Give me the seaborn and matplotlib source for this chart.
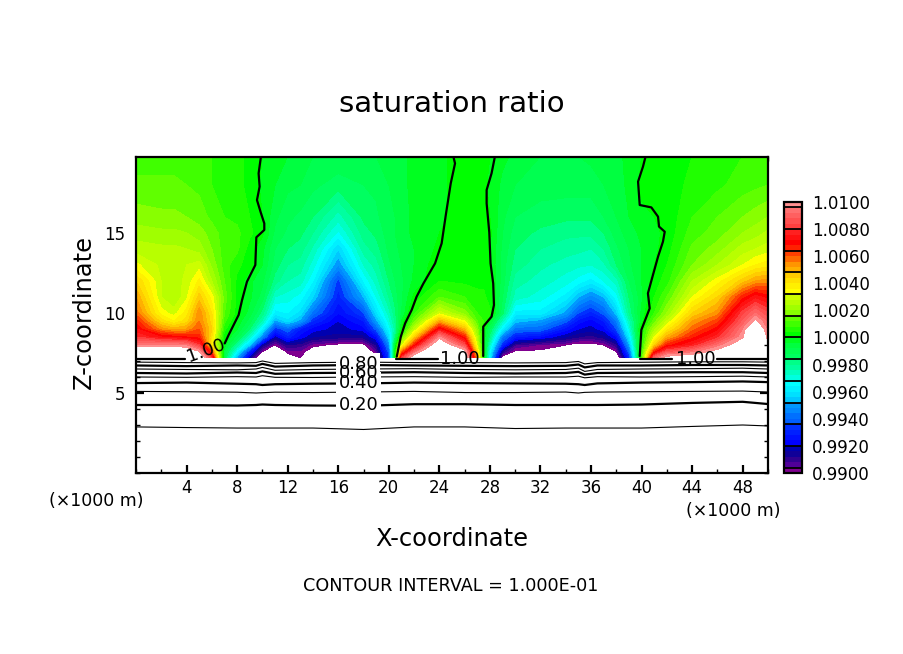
"""Saturation ratio cross-section, redrawn with seaborn and matplotlib."""

import numpy as np
import pandas as pd
import matplotlib
matplotlib.use("Agg")
import matplotlib.pyplot as plt
from matplotlib.colors import ListedColormap, BoundaryNorm
from matplotlib.ticker import MultipleLocator
import seaborn as sns

# grid of the colour field (km)
x_grid = [0, 2, 3, 4, 5, 6, 7, 8, 9, 10, 11, 12, 13, 14, 16, 18, 19, 20, 20.5, 21, 22,
          24, 26, 27, 27.5, 28, 29, 30, 32, 34, 35, 36, 37, 38, 39, 40, 41, 42, 44, 46, 48, 49, 50]
z_grid = [7.2, 7.6, 8, 8.5, 9, 9.5, 10, 11, 12, 13, 14, 15, 16, 18, 19.8]

# saturation ratio minus one, in units of 1e-4, one row per z level
row_72 = [130, 130, 130, 130, 115, 80, -10, -50, -85, -115, -120, -105, -100, -115, -130, -125, -105, -65, 0, 80, 110,
          140, 115, 50, 0, -40, -105, -115, -115, -115, -125, -125, -115, -110, -70, 10, 90, 105, 110, 125, 140, 160, 140]
row_76 = [115, 115, 115, 110, 100, 60, -8, -35, -70, -100, -110, -98, -97, -105, -115, -112, -95, -62, 0, 55, 88,
          130, 105, 40, 0, -35, -88, -101, -101, -105, -115, -112, -108, -100, -60, 8, 64, 84, 92, 104, 130, 150, 125]
row_80 = [96, 96, 96, 94, 80, 40, -2, -22, -45, -85, -100, -88, -90, -98, -102, -102, -88, -54, -5, 30, 66,
          115, 84, 30, 0, -28, -70, -92, -97, -100, -104, -103, -100, -90, -50, 6, 44, 66, 76, 92, 108, 140, 104]
row_85 = [80, 72, 70, 68, 66, 40, 1, -10, -28, -55, -84, -70, -78, -84, -86, -86, -76, -44, -18, 12, 44,
          96, 66, 24, 0, -18, -56, -72, -76, -84, -88, -90, -86, -76, -40, 4, 32, 50, 66, 78, 99, 130, 96]
row_90 = [72, 54, 50, 52, 60, 44, 5, -4, -16, -38, -68, -60, -72, -78, -82, -78, -62, -36, -22, 0, 26,
          72, 48, 18, 0, -12, -38, -58, -60, -74, -80, -82, -78, -64, -32, 4, 22, 38, 58, 70, 95, 120, 92]
row_95 = [66, 42, 36, 42, 56, 42, 9, -1, -10, -25, -50, -42, -50, -68, -80, -72, -50, -30, -19, -4, 14,
          50, 32, 12, 8, -4, -26, -46, -50, -62, -74, -78, -72, -56, -26, -2, 14, 28, 52, 62, 88, 102, 90]
row_100 = [58, 34, 30, 38, 55, 40, 12, 2, -6, -18, -38, -36, -42, -58, -76, -64, -42, -26, -17, -8, 7,
           30, 18, 8, 7, 5, -15, -38, -38, -50, -64, -70, -62, -46, -20, -3, 8, 20, 44, 54, 82, 92, 84]
row_110 = [52, 28, 24, 31, 46, 34, 14, 3, -3, -10, -28, -30, -34, -44, -70, -48, -32, -20, -14, -9, 1,
           12, 8, 5, 5, 2, -12, -26, -30, -38, -48, -54, -48, -34, -16, -5, 4, 12, 32, 44, 66, 74, 70]
row_120 = [44, 28, 26, 29, 37, 24, 12, 3, -3, -7, -18, -24, -26, -36, -66, -36, -26, -16, -12, -9, -3,
           4, 3, 3, 3, 1, -10, -22, -26, -30, -34, -38, -32, -26, -12, -4, 2, 6, 24, 34, 46, 52, 54]
row_130 = [33, 27, 26, 28, 30, 19, 10, 5, 2, -4, -14, -20, -22, -30, -52, -28, -22, -13, -10, -8, -4,
           3, 3, 3, 2, 0, -10, -18, -23, -26, -27, -28, -25, -16, -9, -4, 0, 4, 16, 24, 32, 36, 38]
row_140 = [26, 25, 25, 24, 22, 16, 10, 9, 2, -3, -12, -16, -18, -25, -44, -22, -18, -11, -9, -7, -4,
           1, 3, 3, 2, 0, -9, -16, -20, -22, -23, -24, -20, -13, -8, -4, -1, 2, 13, 18, 26, 28, 30]
row_150 = [22, 21, 21, 20, 18, 14, 10, 9, 5, 1, -9, -13, -15, -20, -33, -18, -15, -10, -8, -6, -3,
           0, 3, 3, 2, 1, -8, -14, -17, -19, -19, -19, -16, -10, -6, -3, -1, 1, 10, 14, 20, 22, 25]
row_160 = [18, 17, 17, 16, 14, 11, 8, 7, 4, 0, -7, -11, -13, -16, -26, -15, -13, -9, -8, -6, -3,
           -1, 2, 2, 1, 0, -7, -12, -14, -15, -15, -15, -12, -8, -4, -1, 0, 1, 8, 12, 16, 18, 20]
row_180 = [13, 13, 13, 12, 11, 8, 6, 5, 3, -1, -4, -7, -8, -11, -14, -12, -11, -8, -7, -5, -3,
           -1, 2, 2, 1, -1, -5, -8, -10, -10, -10, -10, -8, -6, -3, 1, 2, 2, 5, 7, 10, 11, 12]
row_198 = [10, 10, 10, 10, 9, 8, 6, 5, 3, 0, -2, -4, -6, -8, -9, -9, -8, -7, -6, -5, -3,
           -1, 2, 1, 1, 0, -3, -5, -8, -9, -8, -7, -6, -5, -3, 0, 2, 3, 4, 6, 8, 9, 10]

# the 1.00 contours above the cloud base
line_a_x = [9.89, 9.70, 9.78, 9.57, 9.89, 10.15, 10.15, 9.52, 9.44, 8.78, 8.39, 8.12, 7.33, 7.02]
line_a_z = [19.8, 18.73, 17.9, 17.06, 16.23, 15.6, 15.19, 14.73, 13.0, 11.96, 10.81, 9.88, 8.63, 8.10]
line_b_x = [25.1, 25.24, 24.9, 24.53, 24.18, 23.66, 22.74, 22.2, 21.81, 21.29, 20.95, 20.63]
line_b_z = [19.8, 19.35, 18.1, 16.23, 14.35, 13.1, 11.85, 11.02, 10.19, 9.35, 8.52, 7.27]
line_c_x = [28.4, 28.13, 27.74, 27.74, 27.95, 28.05, 28.26, 28.32, 28.13, 27.47, 27.47]
line_c_z = [19.8, 18.73, 17.69, 16.85, 15.04, 13.1, 11.85, 10.5, 9.77, 9.15, 7.31]
line_d_x = [40.32, 40.11, 39.72, 39.85, 40.77, 41.3, 41.38, 41.83, 41.69, 41.3, 40.9, 40.5, 40.64, 39.98, 39.85]
line_d_z = [19.8, 19.15, 18.21, 16.75, 16.6, 16.02, 15.4, 15.08, 14.46, 13.52, 12.38, 11.23, 10.29, 8.94, 7.31]

# flat 1.00 pieces along the cloud base
base_a_x = [0, 2, 3.9]
base_a_z = [7.13, 7.13, 7.13]
base_b_x = [20.6, 23.9]
base_b_z = [7.13, 7.13]
base_d_x = [39.85, 42.4]
base_d_z = [7.13, 7.13]
base_e_x = [46.0, 50]
base_e_z = [7.13, 7.13]

# contours below the cloud base
x_low = [0, 4, 8, 9.5, 10, 11, 14, 18, 22, 26, 30, 34, 35, 35.5, 36.5, 40, 44, 48, 50]
level_10 = [2.88, 2.84, 2.81, 2.81, 2.81, 2.81, 2.81, 2.72, 2.88, 2.88, 2.78, 2.81, 2.81, 2.81, 2.81, 2.81, 2.91, 3.0, 2.94]
level_20 = [4.25, 4.25, 4.22, 4.25, 4.28, 4.25, 4.22, 4.2, 4.3, 4.3, 4.25, 4.25, 4.25, 4.25, 4.25, 4.28, 4.38, 4.45, 4.31]
level_30 = [5.1, 5.08, 5.05, 5.0, 5.02, 5.05, 5.03, 5.06, 5.1, 5.03, 5.03, 5.06, 5.0, 5.04, 5.06, 5.08, 5.1, 5.12, 5.06]
level_40 = [5.62, 5.65, 5.58, 5.55, 5.5, 5.55, 5.58, 5.6, 5.65, 5.62, 5.6, 5.58, 5.55, 5.5, 5.6, 5.65, 5.68, 5.72, 5.68]
level_50 = [6.0, 5.98, 6.02, 6.0, 6.08, 5.98, 5.97, 6.0, 6.02, 5.98, 6.0, 6.0, 6.05, 5.95, 6.02, 6.0, 6.02, 6.05, 6.0]
level_60 = [6.25, 6.22, 6.28, 6.25, 6.35, 6.2, 6.25, 6.27, 6.3, 6.25, 6.22, 6.25, 6.32, 6.15, 6.25, 6.27, 6.3, 6.3, 6.25]
level_70 = [6.5, 6.47, 6.45, 6.5, 6.6, 6.42, 6.47, 6.5, 6.52, 6.47, 6.45, 6.47, 6.55, 6.35, 6.47, 6.5, 6.52, 6.55, 6.5]
level_80 = [6.72, 6.68, 6.72, 6.7, 6.82, 6.65, 6.72, 6.75, 6.72, 6.7, 6.68, 6.7, 6.78, 6.6, 6.72, 6.72, 6.75, 6.75, 6.72]
level_90 = [6.93, 6.9, 6.88, 6.9, 7.0, 6.85, 6.9, 6.93, 6.9, 6.9, 6.88, 6.9, 6.97, 6.82, 6.9, 6.92, 6.95, 6.95, 6.93]

low_labels = ["0.20", "0.40", "0.60", "0.80"]
low_label_z = [4.25, 5.6, 6.28, 6.83]

colour_levels = np.arange(0.99, 1.01001, 0.0004)
colorbar_ticks = [0.99, 0.992, 0.994, 0.996, 0.998, 1.0, 1.002, 1.004, 1.006, 1.008, 1.01]
shades = [
    "#800090",
    "#500098", "#300090", "#100098", "#0000b0",
    "#0000ff", "#0010ff", "#0020ff", "#0030ff",
    "#0060ff", "#0070ff", "#0088ff", "#0098ff",
    "#00c8ff", "#00e0ff", "#00f0ff", "#00ffff",
    "#00ffe0", "#00ffc0", "#00ffa0", "#00ff88",
    "#00ff60", "#00ff50", "#00ff40", "#00ff20",
    "#00ff00", "#20ff00", "#40ff00", "#60ff00",
    "#88ff00", "#a0ff00", "#b8ff00", "#ccff00",
    "#ffff00", "#fff000", "#ffe000", "#ffcc00",
    "#ffb000", "#ff9500", "#ff6a00", "#ff4000",
    "#ff2000", "#ff0000", "#ff1010", "#ff2020",
    "#ff4040", "#ff5050", "#ff6060", "#ff7070",
    "#ff9090",
]


def draw_line(ax, xs, zs, width):
    """Draw one contour as a plain black line."""
    sns.lineplot(x=xs, y=zs, sort=False, estimator=None, color="black", linewidth=width, ax=ax)


sns.set_style("ticks", {
    "text.color": "black",
    "axes.labelcolor": "black",
    "axes.edgecolor": "black",
    "xtick.color": "black",
    "ytick.color": "black",
})
plt.rcParams["axes.linewidth"] = 1.6

fig = plt.figure(figsize=(9.04, 6.54), dpi=100)
ax = fig.add_axes([136 / 904, 1 - 473 / 654, 632 / 904, 316 / 654])

rows = [row_72, row_76, row_80, row_85, row_90, row_95, row_100, row_110, row_120,
        row_130, row_140, row_150, row_160, row_180, row_198]
field = pd.DataFrame(rows, index=z_grid, columns=x_grid)
ratio = 1 + field.to_numpy() * 1e-4

cmap = ListedColormap(shades)
norm = BoundaryNorm(colour_levels, cmap.N)
filled = ax.contourf(x_grid, z_grid, ratio, levels=colour_levels, cmap=cmap, norm=norm, antialiased=False)

for xs, zs in [(line_a_x, line_a_z), (line_b_x, line_b_z), (line_c_x, line_c_z), (line_d_x, line_d_z),
               (base_a_x, base_a_z), (base_b_x, base_b_z), (base_d_x, base_d_z), (base_e_x, base_e_z)]:
    draw_line(ax, xs, zs, 1.6)

for heights, width in [(level_10, 0.8), (level_20, 1.6), (level_30, 0.8), (level_40, 1.6), (level_50, 0.8),
                       (level_60, 1.6), (level_70, 0.8), (level_80, 1.6), (level_90, 0.8)]:
    draw_line(ax, x_low, heights, width)

# labels break the lines behind them, but overlap each other like the original
for text, z in zip(low_labels, low_label_z):
    ax.text(17.6, z, text, color="white", fontsize=13, ha="center", va="center", zorder=3,
            bbox=dict(facecolor="white", edgecolor="none", pad=1.5))
for text, z in zip(low_labels, low_label_z):
    ax.text(17.6, z, text, color="black", fontsize=13, ha="center", va="center", zorder=4)

ax.text(5.5, 7.65, "1.00", fontsize=13, ha="center", va="center", rotation=20, zorder=4)
ax.text(25.6, 7.13, "1.00", fontsize=13, ha="center", va="center", zorder=4)
ax.text(44.3, 7.13, "1.00", fontsize=13, ha="center", va="center", zorder=4)

ax.set_xlim(0, 50)
ax.set_ylim(0, 19.75)
ax.xaxis.set_major_locator(MultipleLocator(4))
ax.xaxis.set_minor_locator(MultipleLocator(2))
ax.yaxis.set_minor_locator(MultipleLocator(1))
ax.set_xticks(range(4, 50, 4))
ax.set_yticks([5, 10, 15])
ax.tick_params(which="major", direction="in", length=6, width=1.6, top=True, right=True, labelsize=12)
ax.tick_params(which="minor", direction="in", length=3, width=1, top=True, right=True)
ax.tick_params(axis="x", which="major", pad=4)
ax.tick_params(axis="y", which="major", pad=8)
ax.set_xlabel("")
ax.set_ylabel("")

fig.text(452 / 904, 1 - 104 / 654, "saturation ratio", fontsize=21, ha="center", va="center")
fig.text(452 / 904, 1 - 539 / 654, "X-coordinate", fontsize=17.4, ha="center", va="center")
fig.text(84 / 904, 1 - 312 / 654, "Z-coordinate", fontsize=17.4, rotation=90, ha="center", va="center")
fig.text(451 / 904, 1 - 586 / 654, "CONTOUR INTERVAL = 1.000E-01", fontsize=12.7, ha="center", va="center")
fig.text(96 / 904, 1 - 501 / 654, "(×1000 m)", fontsize=12.5, ha="center", va="center")
fig.text(733 / 904, 1 - 511 / 654, "(×1000 m)", fontsize=12.5, ha="center", va="center")

cax = fig.add_axes([784 / 904, 1 - 473 / 654, 18 / 904, 271 / 654])
bar = fig.colorbar(filled, cax=cax, ticks=colorbar_ticks, format="%.4f", spacing="proportional")
bar.minorticks_off()
bar.outline.set_linewidth(1.6)
cax.tick_params(length=0, labelsize=12, pad=7)
cax.hlines(np.arange(0.9904, 1.0097, 0.0016), 0, 1, transform=cax.get_yaxis_transform(), color="black", linewidth=1.3)

fig.savefig("out.png", dpi=100)
